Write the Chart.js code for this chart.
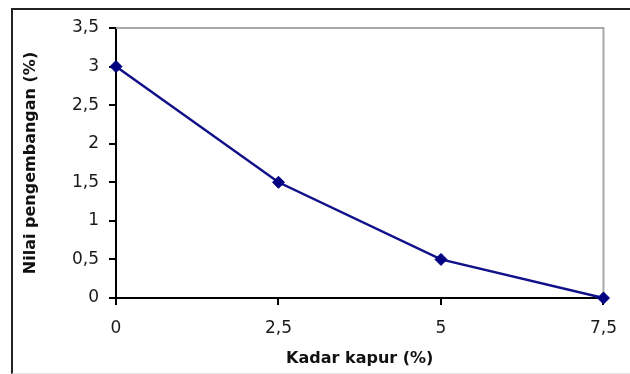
<!DOCTYPE html>
<html>
<head>
<meta charset="utf-8">
<script src="https://cdn.jsdelivr.net/npm/chart.js@4"></script>
<style>
  body { margin: 0; background: #fff; overflow: hidden; }
  #wrap { position: relative; width: 630px; height: 374px; }
  #frame {
    position: absolute; left: 11px; top: 8px; width: 700px; height: 363px;
    border-left: 2px solid #222; border-top: 2px solid #222; border-bottom: 1px solid #e2e2e2;
  }
  #myChart { position: absolute; left: 0; top: 0; }
</style>
</head>
<body>
<div id="wrap">
  <div id="frame"></div>
  <canvas id="myChart" width="630" height="374"></canvas>
</div>
<script>
const kadarKapur = [0, 2.5, 5, 7.5];
const nilaiPengembangan = [3, 1.5, 0.5, 0];
const xTicks = [0, 2.5, 5, 7.5];
const yTicks = [0, 0.5, 1, 1.5, 2, 2.5, 3, 3.5];

const koma = v => String(v).replace('.', ',');

// garis abu-abu di atas dan kanan area plot
const plotBorder = {
  id: 'plotBorder',
  beforeDatasetsDraw(chart) {
    const { ctx, chartArea: a } = chart;
    ctx.save();
    ctx.strokeStyle = '#a8a8a8';
    ctx.lineWidth = 2;
    ctx.beginPath();
    ctx.moveTo(a.left, a.top);
    ctx.lineTo(a.right, a.top);
    ctx.lineTo(a.right, a.bottom);
    ctx.stroke();
    ctx.restore();
  }
};

const ctx = document.getElementById('myChart');

new Chart(ctx, {
  type: 'line',
  data: {
    datasets: [{
      label: 'Nilai pengembangan',
      data: kadarKapur.map((k, i) => ({ x: k, y: nilaiPengembangan[i] })),
      borderColor: '#10108a',
      borderWidth: 2.5,
      pointStyle: 'rectRot',
      pointRadius: 6,
      pointBackgroundColor: '#000080',
      pointBorderColor: '#000080',
      pointBorderWidth: 1,
      tension: 0,
      clip: false
    }]
  },
  options: {
    responsive: false,
    animation: false,
    layout: { padding: { top: 28, right: 24, left: 0, bottom: 0 } },
    plugins: {
      legend: { display: false },
      tooltip: { enabled: false }
    },
    scales: {
      x: {
        type: 'linear',
        min: 0,
        max: 7.5,
        afterFit: s => { s.height = 76; },
        afterBuildTicks: s => { s.ticks = xTicks.map(v => ({ value: v })); },
        border: { color: '#000', width: 2 },
        grid: { drawOnChartArea: false, tickLength: 7, color: '#000', lineWidth: 2 },
        ticks: {
          padding: 13,
          color: '#1a1a1a',
          font: { family: 'DejaVu Sans', size: 17 },
          callback: koma
        },
        title: {
          display: true,
          text: 'Kadar kapur (%)',
          color: '#111',
          font: { family: 'DejaVu Sans', size: 16, weight: 'bold' },
          padding: { top: 0, bottom: 6 }
        }
      },
      y: {
        min: 0,
        max: 3.5,
        afterFit: s => { s.width = 116; },
        afterBuildTicks: s => { s.ticks = yTicks.map(v => ({ value: v })); },
        border: { color: '#000', width: 2 },
        grid: { drawOnChartArea: false, tickLength: 7, color: '#000', lineWidth: 2 },
        ticks: {
          padding: 10,
          color: '#1a1a1a',
          font: { family: 'DejaVu Sans', size: 17 },
          callback: koma
        },
        title: {
          display: true,
          text: 'Nilai pengembangan (%)',
          color: '#111',
          font: { family: 'DejaVu Sans', size: 16, weight: 'bold' },
          padding: { top: 21, bottom: 0 }
        }
      }
    }
  },
  plugins: [plotBorder]
});
</script>
</body>
</html>
